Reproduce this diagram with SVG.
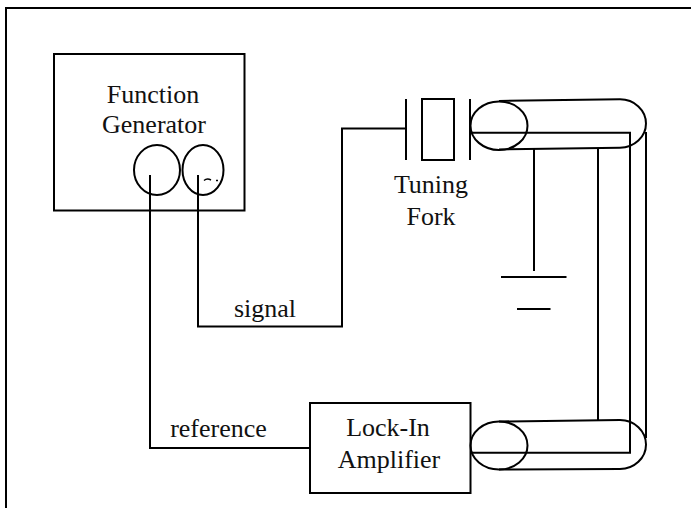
<svg xmlns="http://www.w3.org/2000/svg" width="691" height="508" viewBox="0 0 691 508">
<style>
.s{fill:none;stroke:#000;stroke-width:2}
.t{font-family:"Liberation Serif","Times New Roman",serif;font-size:26px;fill:#111;text-anchor:middle}
</style>
<rect width="691" height="508" fill="#fff"/>
<g id="border"><path class="s" d="M6 508V8H691"/></g>
<g id="function-generator">
<rect class="s" x="54" y="54" width="190.500" height="156.500"/>
<text class="t" x="153" y="103">Function</text>
<text class="t" x="154" y="133">Generator</text>
<ellipse class="s" cx="157" cy="170" rx="23" ry="25"/>
<ellipse class="s" cx="203" cy="170" rx="20.500" ry="25"/>
<path d="M204 180.500q3-2.500 7-0.500M216 180.500h2" fill="none" stroke="#000" stroke-width="1.500"/>
</g>
<g id="tuning-fork">
<path class="s" d="M406 99V160M470 99V160"/>
<rect class="s" x="422" y="99" width="32" height="61"/>
<text class="t" x="431" y="193">Tuning</text>
<text class="t" x="431" y="225">Fork</text>
</g>
<g id="top-coil">
<path class="s" d="M499 101L620 99.300A26 24.200 0 0 1 620 147.700L499 149.500"/>
<ellipse class="s" cx="499" cy="125.700" rx="28.500" ry="24.300"/>
</g>
<g id="ground"><path class="s" d="M501 277H566.500M517 309H550.500"/></g>
<g id="lock-in-amplifier">
<rect class="s" x="310" y="403" width="160.500" height="90"/>
<text class="t" x="388" y="436">Lock-In</text>
<text class="t" x="389" y="468">Amplifier</text>
</g>
<g id="bottom-coil">
<path class="s" d="M499 421.500L620 420A26 24.500 0 0 1 620 469L499 469.500"/>
<ellipse class="s" cx="499" cy="445.500" rx="28.500" ry="24"/>
</g>
<g id="connectors">
<path class="s" d="M150 175V448H310"/>
<path class="s" d="M198 175V326.500H342V128.500H406"/>
<path class="s" d="M470 132.700H630V452.700H470"/>
<path class="s" d="M646 132V438"/>
<path class="s" d="M598 149V420"/>
<path class="s" d="M534 149V271"/>
</g>
<text class="t" x="265" y="317">signal</text>
<text class="t" x="218.500" y="437">reference</text>
</svg>
